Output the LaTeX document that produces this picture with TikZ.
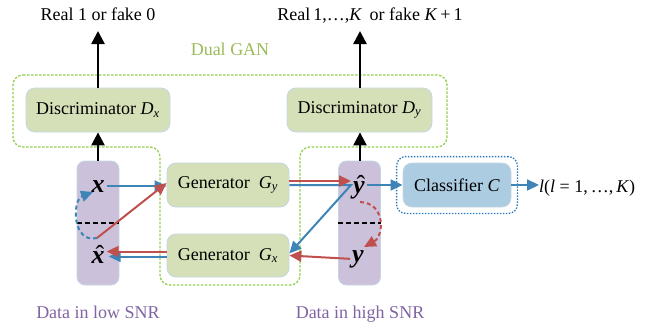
\documentclass[tikz,border=0pt]{standalone}
\usepackage{fontspec}
\setmainfont{Liberation Serif}
\usetikzlibrary{arrows.meta,fit}
\definecolor{boxgreen}{RGB}{214,224,184}
\definecolor{boxedge}{RGB}{196,214,228}
\definecolor{barpurple}{RGB}{204,193,218}
\definecolor{clsblue}{RGB}{172,204,226}
\definecolor{cblue}{RGB}{62,132,182}
\definecolor{cred}{RGB}{192,80,77}
\definecolor{gandash}{RGB}{146,208,80}
\definecolor{clsdot}{RGB}{40,120,190}
\definecolor{snrtext}{RGB}{128,100,162}
\definecolor{gantext}{RGB}{155,187,89}
\begin{document}
\begin{tikzpicture}[x=1pt,y=-1pt,
  lbl/.style={font=\fontsize{18}{20}\selectfont},
  box/.style={draw=boxedge, line width=0.8pt, rounded corners=9pt, fill=boxgreen,
    font=\fontsize{18}{20}\selectfont, inner sep=0pt},
  databar/.style={draw=boxedge, line width=0.8pt, rounded corners=8pt, fill=barpurple,
    minimum width=42pt, minimum height=124pt, inner sep=0pt},
  sym/.style={font=\fontsize{26}{28}\selectfont\bfseries\itshape, inner sep=2pt, anchor=base},
  hatmark/.style={font=\fontsize{26}{28}\selectfont, inner sep=0pt, anchor=base},
  blk/.style={line width=2.4pt, -{Triangle[length=13pt,width=13pt]}},
  bluea/.style={draw=cblue, line width=2pt, -{Triangle[length=12pt,width=11pt]}},
  reda/.style={draw=cred, line width=2pt, -{Triangle[length=12pt,width=11pt]}},
  loopline/.style={line width=2pt, dash pattern=on 4pt off 3pt, -{Triangle[length=12pt,width=11pt]}},
  splitline/.style={line width=1.3pt, dash pattern=on 5pt off 3pt},
]
\useasboundingbox (0,0) rectangle (654,324);

% dual GAN outline
\draw[gandash, line width=1.3pt, dash pattern=on 2.5pt off 1.5pt, rounded corners=10pt]
  (13,75) -- (447,75) -- (447,147) -- (300,147) -- (300,285) -- (160,285)
  -- (160,147) -- (13,147) -- cycle;
\node[lbl, text=gantext, anchor=base] (gan) at (230,55) {Dual GAN};

% data columns
\node[databar] (lbar) at (98,223) {};
\node[databar] (rbar) at (359.5,223) {};
\draw[splitline] (lbar.west) -- (lbar.east);
\draw[splitline] (rbar.west) -- (rbar.east);

\node[sym] (x) at (98,192) {x};
\node[sym] (xh) at (98,263) {x};
\node[hatmark] (xhat) at (100,263) {\char"02C6};
\node[sym] (yh) at (359,193) {y};
\node[hatmark] (yhat) at (361,193) {\char"02C6};
\node[sym] (y) at (358,262) {y};

% blocks
\node[box, minimum width=144pt, minimum height=44pt] (dx) at (98,110)
  {Discriminator \textit{D}\textsubscript{\textit{x}}};
\node[box, minimum width=145pt, minimum height=44pt] (dy) at (359.5,110)
  {Discriminator \textit{D}\textsubscript{\textit{y}}};
\node[box, minimum width=122pt, minimum height=44pt] (gy) at (228,185)
  {Generator~~\textit{G}\textsubscript{\textit{y}}};
\node[box, minimum width=122pt, minimum height=43pt] (gx) at (228,255.5)
  {Generator~~\textit{G}\textsubscript{\textit{x}}};
\node[box, fill=clsblue, minimum width=108pt, minimum height=44pt] (c) at (457,185)
  {Classifier \textit{C}};
\node[draw=clsdot, line width=1.3pt, dash pattern=on 1.5pt off 1.5pt, rounded corners=9pt,
  fit=(c), inner sep=6pt] (cf) {};

% texts
\node[lbl, anchor=base] (t1) at (98,20.5) {Real 1 or fake 0};
\node[lbl, anchor=base] (t2) at (370,20.5)
  {Real\,1,\ldots,\textit{K}\, or fake \textit{K}\,+\,1};
\node[lbl, text=snrtext, anchor=base] (low) at (98,318) {Data in low SNR};
\node[lbl, text=snrtext, anchor=base] (high) at (360,318) {Data in high SNR};
\node[lbl, anchor=base west, inner sep=0pt] (out) at (539,192)
  {\textit{l}(\textit{l} = 1,\,\ldots,\,\textit{K})};

% discriminator outputs
\coordinate (o1) at (98,31);
\coordinate (o2) at (360,31);
\draw[blk] (lbar.north) -- (dx.south);
\draw[blk] (dx.north) -- (o1);
\draw[blk] (rbar.north -| o2) -- (dy.south -| o2);
\draw[blk] (dy.north -| o2) -- (o2);

% loop points
\coordinate (xl) at (97,238);
\coordinate (xe) at (93,192);
\coordinate (yl) at (360,202);
\coordinate (ye) at (364,247);

% generator paths
\draw[bluea] (x.east) -- (x.east -| gy.west);
\draw[reda] (xl) -- ([yshift=2pt]gy.west);
\draw[bluea] ([yshift=-1pt]gx.west) -- ([yshift=-1pt,xshift=2pt]gx.west -| xh.east);
\draw[reda] ([yshift=4pt]gx.west) -- ([yshift=4pt]gx.west -| xh.east);
\draw[draw=cblue, line width=2pt, -{Triangle[length=12pt,width=11pt]}]
  (gy.east) -- (gy.east -| yh.west) -- ([yshift=2pt]gx.east);
\draw[reda] ([yshift=4pt]gy.east) -- ([yshift=4pt]gy.east -| yh.west);
\draw[reda] (y.west) -- (gx.east);

% cycle loops
\draw[loopline, draw=cblue] (xl) .. controls (72,244) and (72,200) .. (xe);
\draw[loopline, draw=cred] (yl) .. controls (386,203) and (384,236) .. (ye);

% classifier
\draw[bluea] (c.west -| yh.east) -- (c.west);
\draw[bluea] (c.east) -- (c.east -| out.west);
\end{tikzpicture}
\end{document}
